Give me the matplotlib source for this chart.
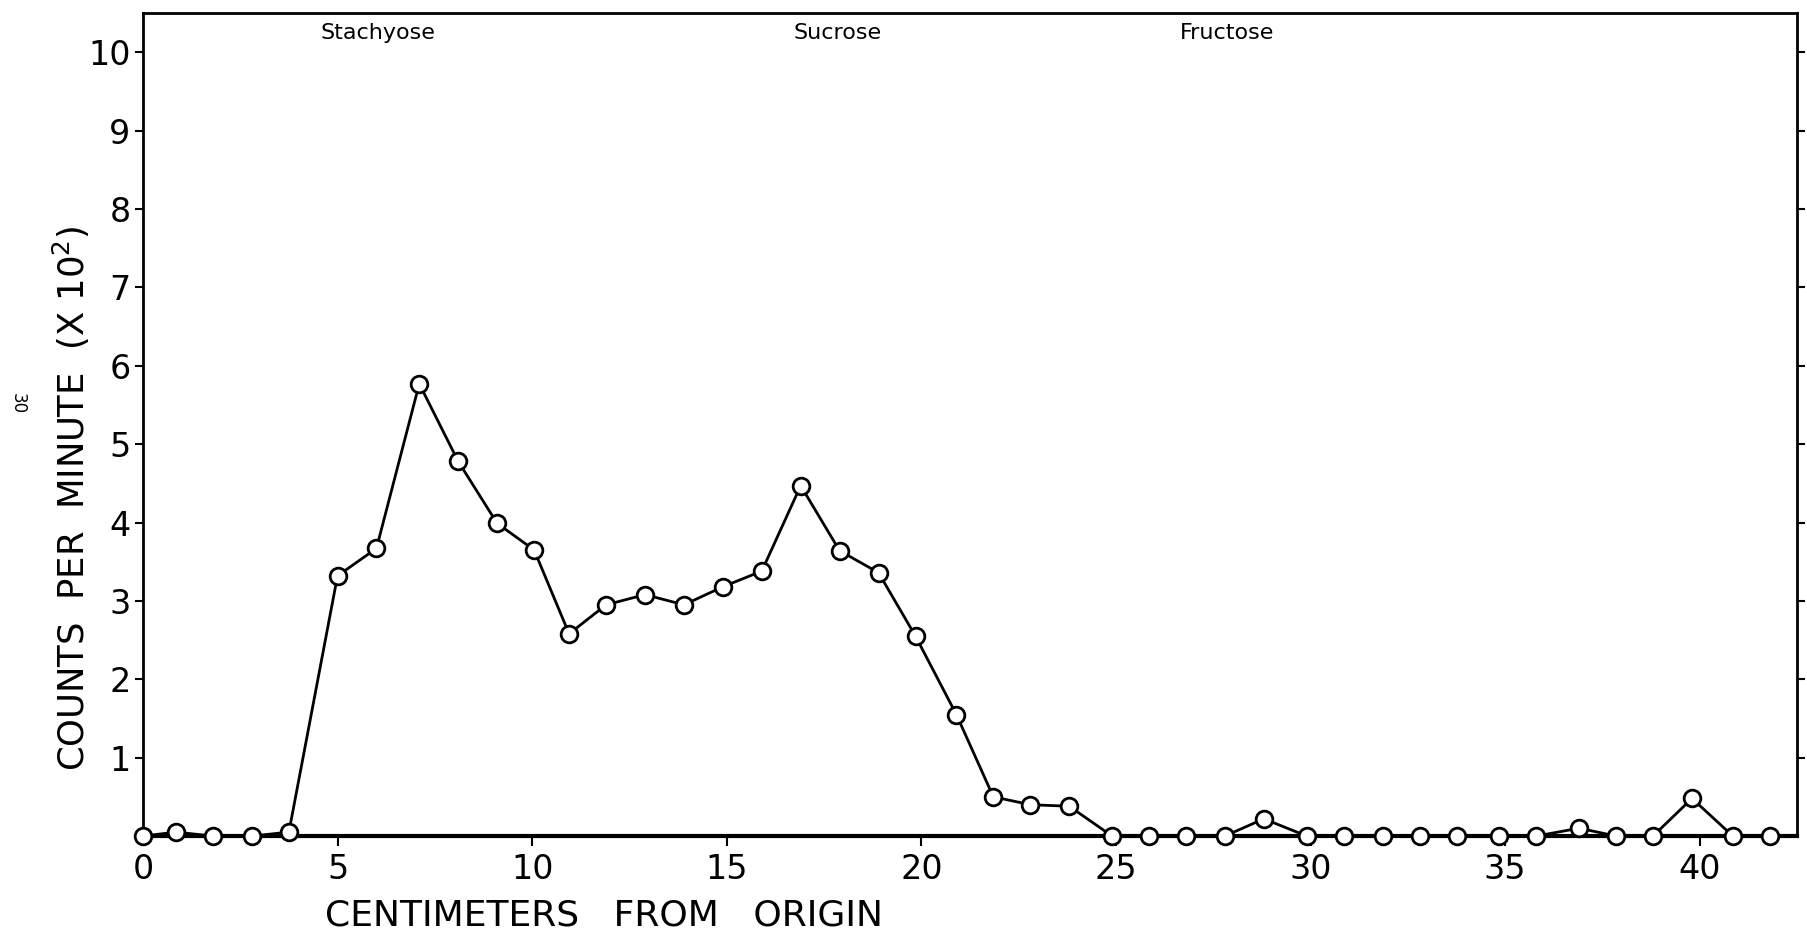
from matplotlib import pyplot as plt

# distance from origin (cm) and counts per minute (x 10^2)
distance_cm = [0, 0.85, 1.8, 2.8, 3.75, 5.0, 6.0, 7.1, 8.1, 9.1, 10.05, 10.95,
               11.9, 12.9, 13.9, 14.9, 15.9, 16.9, 17.9, 18.9, 19.85, 20.9,
               21.85, 22.8, 23.8, 24.9, 25.85, 26.8, 27.8, 28.8, 29.9, 30.85,
               31.85, 32.8, 33.75, 34.85, 35.8, 36.9, 37.85, 38.8, 39.8,
               40.85, 41.8]
counts = [0.0, 0.05, 0.0, 0.0, 0.05, 3.32, 3.67, 5.77, 4.78, 3.99, 3.65, 2.58,
          2.95, 3.08, 2.95, 3.18, 3.38, 4.47, 3.64, 3.36, 2.55, 1.55,
          0.5, 0.4, 0.38, 0.0, 0.0, 0.0, 0.0, 0.22, 0.0, 0.0,
          0.0, 0.0, 0.0, 0.0, 0.0, 0.1, 0.0, 0.0, 0.48,
          0.0, 0.0]

x_ticks = [0, 5, 10, 15, 20, 25, 30, 35, 40]
y_ticks = [1, 2, 3, 4, 5, 6, 7, 8, 9, 10]

sugars = ["Stachyose", "Sucrose", "Fructose"]
sugar_pos = [6.05, 17.85, 27.85]

plt.rcParams['font.family'] = ['DejaVu Sans']

fig = plt.figure(figsize=(18.07, 9.38), dpi=100)
ax = fig.add_axes([0.0791, 0.1087, 0.9154, 0.8774])

# the profile
ax.plot(distance_cm, counts, color='black', linewidth=2.0, marker='o',
        markersize=12, markerfacecolor='white', markeredgecolor='black',
        markeredgewidth=2.0, clip_on=False, zorder=5)

ax.set_xlim(0, 42.5)
ax.set_ylim(0, 10.5)

ax.set_xticks(x_ticks)
ax.set_yticks(y_ticks)
ax.tick_params(axis='x', direction='out', length=7, width=1.5, pad=5,
               labelsize=24)
ax.tick_params(axis='y', direction='out', length=6, width=1.5, pad=3,
               labelsize=24, right=True)

for side in ['left', 'right', 'top']:
    ax.spines[side].set_linewidth(2.0)
ax.spines['bottom'].set_linewidth(3.0)

# axis titles
ax.set_ylabel("COUNTS  PER  MINUTE  (X 10$^2$)", fontsize=25.5, va='center')
ax.yaxis.set_label_coords(-0.043, 0.41)
ax.set_xlabel("CENTIMETERS   FROM   ORIGIN", fontsize=26, va='center')
ax.xaxis.set_label_coords(0.279, -0.096)

# sugar standards along the top
for name, pos in zip(sugars, sugar_pos):
    ax.text(pos, 0.976, name, transform=ax.get_xaxis_transform(),
            ha='center', va='center', fontsize=16)

# stray page number on the scan
fig.text(0.01, 0.57, "30", rotation=-90, ha='center', va='center', fontsize=12)

fig.savefig("out.png", dpi=100)
